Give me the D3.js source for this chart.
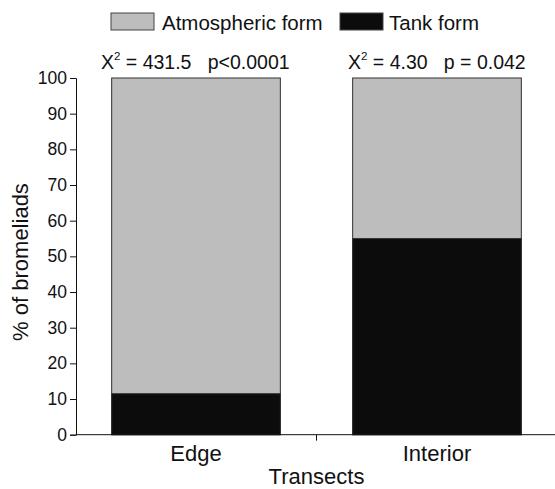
<!DOCTYPE html>
<html><head><meta charset="utf-8">
<script src="https://cdn.jsdelivr.net/npm/d3@7"></script>
<style>body{margin:0;background:#fff;}svg{display:block;font-family:Arial,"Liberation Sans",sans-serif;}</style>
</head><body>
<svg id="c" width="555" height="489"></svg>
<script>
const categories = ["Edge", "Interior"];
const tankValues = [11.5, 55];
const atmosValues = [88.5, 45];
const yTicks = [0,10,20,30,40,50,60,70,80,90,100];
const stats = [["X", "2", " = 431.5   p<0.0001"], ["X", "2", " = 4.30   p = 0.042"]];
const seriesNames = ["Atmospheric form", "Tank form"];
const colors = {atmos: "#bdbdbd", tank: "#0c0c0c"};

const svg = d3.select("#c");
const x0 = 76, x1 = 557, yTop = 78, yBot = 434.7;
const x = d3.scaleBand().domain(categories).range([x0, x1]).paddingInner(0.3).paddingOuter(0.148);
const y = d3.scaleLinear().domain([0, 100]).range([yBot, yTop]);

// bars
const g = svg.append("g");
categories.forEach((c, i) => {
  g.append("rect").attr("x", x(c)).attr("width", x.bandwidth())
    .attr("y", y(tankValues[i] + atmosValues[i])).attr("height", y(0) - y(tankValues[i] + atmosValues[i]))
    .attr("fill", colors.atmos).attr("stroke", "#333").attr("stroke-width", 1);
  g.append("rect").attr("x", x(c)).attr("width", x.bandwidth())
    .attr("y", y(tankValues[i])).attr("height", y(0) - y(tankValues[i]))
    .attr("fill", colors.tank).attr("stroke", "#333").attr("stroke-width", 1);
});

// y axis
const ya = svg.append("g").attr("transform", `translate(${x0},0)`)
  .call(d3.axisLeft(y).tickValues(yTicks).tickSize(6).tickPadding(3));
ya.selectAll("text").attr("font-size", 17.5).attr("fill", "#111").style("font-family", "Arial,'Liberation Sans',sans-serif");
ya.selectAll("line,path").attr("stroke", "#111");

// x axis
const xa = svg.append("g").attr("transform", `translate(0,${yBot})`);
xa.append("line").attr("x1", x0).attr("x2", x1).attr("stroke", "#111");
const mid = (x(categories[0]) + x.bandwidth() + x(categories[1])) / 2;
xa.append("line").attr("x1", mid).attr("x2", mid).attr("y1", 0).attr("y2", 6).attr("stroke", "#111");
categories.forEach(c => {
  xa.append("text").attr("x", x(c) + x.bandwidth() / 2).attr("y", 26.5).attr("text-anchor", "middle")
    .attr("font-size", 22).attr("fill", "#111").text(c);
});
svg.append("text").attr("x", mid).attr("y", 484).attr("text-anchor", "middle")
  .attr("font-size", 22).attr("fill", "#111").text("Transects");
svg.append("text").attr("transform", "translate(28,262) rotate(-90)").attr("text-anchor", "middle")
  .attr("font-size", 22).attr("fill", "#111").text("% of bromeliads");

// stats
const statX = [101, 348];
stats.forEach((s, i) => {
  const t = svg.append("text").attr("x", statX[i]).attr("y", 69).attr("font-size", 19.5).attr("fill", "#111");
  t.append("tspan").text(s[0]);
  t.append("tspan").attr("dy", -9).attr("font-size", 11.5).text(s[1]);
  t.append("tspan").attr("dy", 9).style("white-space", "pre").text(s[2]);
});

// legend
const leg = [[111, colors.atmos, seriesNames[0], 162], [340, colors.tank, seriesNames[1], 389]];
leg.forEach(([lx, col, name, tx]) => {
  svg.append("rect").attr("x", lx).attr("y", 13).attr("width", 43).attr("height", 17)
    .attr("fill", col).attr("stroke", "#444").attr("stroke-width", 1);
  svg.append("text").attr("x", tx).attr("y", 29.5).attr("font-size", 20.5).attr("fill", "#111").text(name);
});
</script>
</body></html>
